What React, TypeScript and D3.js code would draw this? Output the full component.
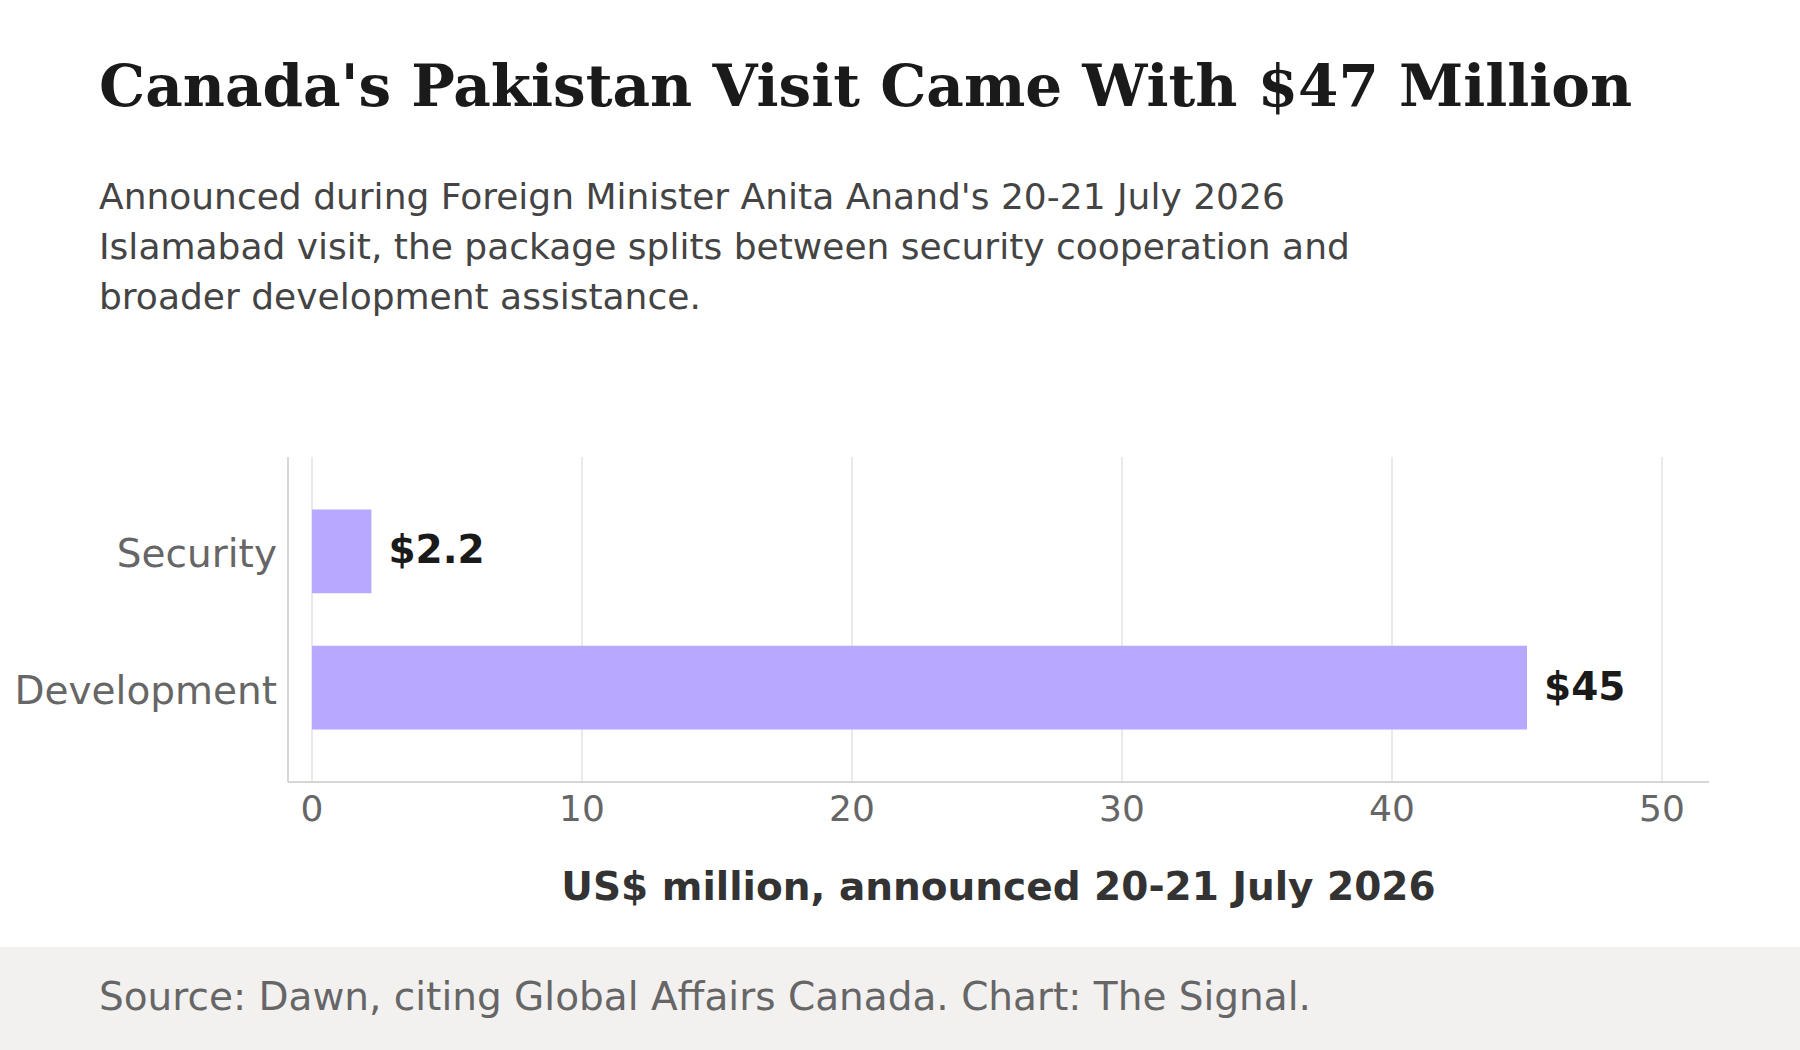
import React from 'react';
import * as d3 from 'd3';

const categories = ['Security', 'Development'];
const amounts = [2.2, 45];
const valueLabels = ['$2.2', '$45'];
const xTicks = [0, 10, 20, 30, 40, 50];

const title = "Canada's Pakistan Visit Came With $47 Million";
const subtitleLines = [
  "Announced during Foreign Minister Anita Anand's 20-21 July 2026",
  'Islamabad visit, the package splits between security cooperation and',
  'broader development assistance.',
];
const axisTitle = 'US$ million, announced 20-21 July 2026';
const source = 'Source: Dawn, citing Global Affairs Canada. Chart: The Signal.';

const WIDTH = 1800;
const HEIGHT = 1050;
const SANS = '"DejaVu Sans", sans-serif';
const SERIF = '"DejaVu Serif", serif';

const App: React.FC = () => {
  const plotTop = 457;
  const plotBottom = 782;
  const axisLeft = 288;
  const axisRight = 1709;

  const x = d3.scaleLinear().domain([0, 50]).range([312, 1662]);
  const y = d3
    .scaleBand<string>()
    .domain(categories)
    .range([plotTop, plotBottom])
    .padding(0.385);

  return (
    <svg
      width={WIDTH}
      height={HEIGHT}
      style={{ position: 'absolute', left: 0, top: 0, background: '#fff' }}
    >
      <rect x={0} y={0} width={WIDTH} height={HEIGHT} fill='#ffffff' />

      <text
        x={99}
        y={106}
        fontFamily={SERIF}
        fontWeight='bold'
        fontSize={58}
        fill='#1a1a1a'
      >
        {title}
      </text>

      {subtitleLines.map((line, i) => (
        <text
          key={i}
          x={99}
          y={209 + i * 50}
          fontFamily={SANS}
          fontSize={36}
          fill='#444444'
        >
          {line}
        </text>
      ))}

      {/* vertical gridlines */}
      {xTicks.map((t) => (
        <line
          key={`g${t}`}
          x1={x(t)}
          x2={x(t)}
          y1={plotTop}
          y2={plotBottom}
          stroke='#e3e3e1'
          strokeWidth={1.5}
        />
      ))}

      {/* bars */}
      {categories.map((c, i) => (
        <rect
          key={c}
          x={x(0)}
          y={y(c)}
          width={x(amounts[i]) - x(0)}
          height={y.bandwidth()}
          fill='#b8a9fe'
        />
      ))}

      {/* value labels */}
      {categories.map((c, i) => (
        <text
          key={`v${c}`}
          x={x(amounts[i]) + 17}
          y={(y(c) ?? 0) + y.bandwidth() / 2 + 12}
          fontFamily={SANS}
          fontWeight='bold'
          fontSize={39}
          fill='#1a1a1a'
        >
          {valueLabels[i]}
        </text>
      ))}

      {/* axes */}
      <line
        x1={axisLeft}
        x2={axisLeft}
        y1={plotTop}
        y2={plotBottom}
        stroke='#d6d6d2'
        strokeWidth={2}
      />
      <line
        x1={axisLeft}
        x2={axisRight}
        y1={plotBottom}
        y2={plotBottom}
        stroke='#d6d6d2'
        strokeWidth={2}
      />

      {categories.map((c) => (
        <text
          key={`c${c}`}
          x={277}
          y={(y(c) ?? 0) + y.bandwidth() / 2 + 16}
          textAnchor='end'
          fontFamily={SANS}
          fontSize={39}
          fill='#666666'
        >
          {c}
        </text>
      ))}

      {xTicks.map((t) => (
        <text
          key={`t${t}`}
          x={x(t)}
          y={821}
          textAnchor='middle'
          fontFamily={SANS}
          fontSize={36}
          fill='#666666'
        >
          {t}
        </text>
      ))}

      <text
        x={(axisLeft + axisRight) / 2}
        y={900}
        textAnchor='middle'
        fontFamily={SANS}
        fontWeight='bold'
        fontSize={39}
        fill='#333333'
      >
        {axisTitle}
      </text>

      {/* footer band */}
      <rect x={0} y={947} width={WIDTH} height={HEIGHT - 947} fill='#f2f1f0' />
      <text x={99} y={1010} fontFamily={SANS} fontSize={39} fill='#666666'>
        {source}
      </text>
    </svg>
  );
};

export default App;
